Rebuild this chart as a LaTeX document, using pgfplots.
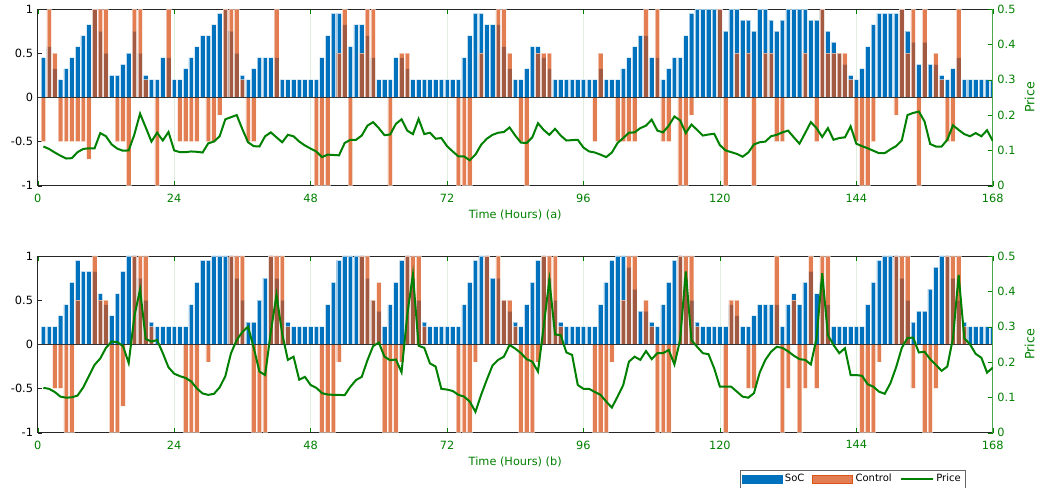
\documentclass[border=0pt]{standalone}
\usepackage{pgfplots}
\pgfplotsset{compat=1.18}
\usepackage{pgfplotstable}
\usepackage{fontspec}
\setmainfont{DejaVu Sans}
\definecolor{socblue}{RGB}{0,114,189}
\definecolor{ctrlorange}{RGB}{217,83,25}
\definecolor{pricegreen}{RGB}{0,128,0}
\definecolor{axgreen}{RGB}{0,128,0}

\pgfplotstableread{
h soc ctrl price
1 0.45 -0.5 0.111
2 0.575 1 0.104
3 0.325 0.5 0.094
4 0.2 -0.5 0.085
5 0.325 -0.5 0.077
6 0.45 -0.5 0.078
7 0.575 -0.5 0.095
8 0.7 -0.5 0.104
9 0.825 -0.7 0.106
10 1.0 1 0.106
11 0.75 1 0.149
12 0.5 1 0.140
13 0.25 0 0.117
14 0.25 -0.5 0.105
15 0.375 -0.5 0.099
16 0.5 -1 0.100
17 0.75 1 0.145
18 0.5 1 0.204
19 0.25 0.2 0.165
20 0.2 0 0.125
21 0.2 -1 0.150
22 0.45 0 0.128
23 0.45 1 0.152
24 0.2 0 0.100
25 0.2 -0.5 0.095
26 0.325 -0.5 0.095
27 0.45 -0.5 0.097
28 0.575 -0.5 0.096
29 0.7 0 0.094
30 0.7 -0.5 0.120
31 0.825 -0.5 0.125
32 0.95 -0.2 0.140
33 1.0 1 0.188
34 0.75 1 0.194
35 0.5 1 0.200
36 0.25 0.2 0.160
37 0.2 -0.5 0.123
38 0.325 -0.5 0.112
39 0.45 0 0.111
40 0.45 0 0.140
41 0.45 0 0.151
42 0.45 1 0.137
43 0.2 0 0.123
44 0.2 0 0.144
45 0.2 0 0.140
46 0.2 0 0.125
47 0.2 0 0.114
48 0.2 0 0.105
49 0.2 -1 0.097
50 0.45 -1 0.081
51 0.7 -1 0.088
52 0.95 0 0.087
53 0.95 0.5 0.086
54 0.825 1 0.121
55 0.575 -1 0.130
56 0.825 0 0.130
57 0.825 0.5 0.142
58 0.7 1 0.170
59 0.45 1 0.180
60 0.2 0 0.163
61 0.2 0 0.143
62 0.2 -1 0.145
63 0.45 0 0.175
64 0.45 0.5 0.188
65 0.325 0.5 0.156
66 0.2 0 0.146
67 0.2 0 0.189
68 0.2 0 0.146
69 0.2 0 0.150
70 0.2 0 0.133
71 0.2 0 0.135
72 0.2 0 0.112
73 0.2 0 0.097
74 0.2 -1 0.083
75 0.45 -1 0.083
76 0.7 -1 0.072
77 0.95 0 0.088
78 0.95 0.5 0.116
79 0.825 0 0.133
80 0.825 0 0.144
81 0.825 1 0.150
82 0.575 1 0.152
83 0.325 0.5 0.165
84 0.2 0 0.142
85 0.2 -0.5 0.122
86 0.325 -1 0.121
87 0.575 0 0.137
88 0.575 0.5 0.177
89 0.45 0.5 0.158
90 0.325 0.5 0.144
91 0.2 0 0.161
92 0.2 0 0.142
93 0.2 0 0.128
94 0.2 0 0.129
95 0.2 0 0.130
96 0.2 0 0.108
97 0.2 0 0.097
98 0.2 -0.5 0.094
99 0.325 0.5 0.088
100 0.2 0 0.081
101 0.2 0 0.094
102 0.2 -0.5 0.121
103 0.325 -0.5 0.135
104 0.45 -0.5 0.150
105 0.575 -0.5 0.151
106 0.7 0 0.163
107 0.7 1 0.170
108 0.45 0 0.187
109 0.45 1 0.156
110 0.2 -0.5 0.151
111 0.325 -0.5 0.170
112 0.45 0 0.196
113 0.45 -1 0.185
114 0.7 -1 0.149
115 0.95 -0.2 0.173
116 1.0 0 0.158
117 1.0 0 0.142
118 1.0 0 0.145
119 1.0 0 0.147
120 1.0 1 0.115
121 0.75 -1 0.100
122 1.0 0 0.095
123 1.0 0.5 0.090
124 0.875 0 0.082
125 0.875 0.5 0.094
126 0.75 -1 0.117
127 1.0 0 0.123
128 1.0 0.5 0.125
129 0.875 0.5 0.140
130 0.75 -0.5 0.144
131 0.875 -0.5 0.151
132 1.0 0 0.156
133 1.0 0 0.137
134 1.0 0 0.119
135 1.0 0.5 0.149
136 0.875 0 0.180
137 0.875 -0.5 0.163
138 1.0 1 0.138
139 0.75 0.5 0.163
140 0.625 0.5 0.130
141 0.5 0.5 0.135
142 0.375 0.5 0.137
143 0.25 0.2 0.168
144 0.2 -0.5 0.119
145 0.325 -1 0.112
146 0.575 -1 0.106
147 0.825 -0.5 0.099
148 0.95 0 0.092
149 0.95 0 0.092
150 0.95 0 0.103
151 0.95 -0.2 0.112
152 1.0 1 0.128
153 0.75 0.5 0.200
154 0.625 1 0.206
155 0.375 -1 0.210
156 0.625 1 0.182
157 0.375 0 0.118
158 0.375 0.5 0.111
159 0.25 0.2 0.111
160 0.2 -0.5 0.130
161 0.325 -0.5 0.171
162 0.45 1 0.158
163 0.2 0 0.146
164 0.2 0 0.140
165 0.2 0 0.149
166 0.2 0 0.140
167 0.2 0 0.157
168 0.2 0 0.127
}\topdata

\pgfplotstableread{
h soc ctrl price
1 0.2 0 0.127
2 0.2 0 0.124
3 0.2 -0.5 0.115
4 0.325 -0.5 0.102
5 0.45 -1 0.099
6 0.7 -1 0.100
7 0.95 0.5 0.105
8 0.825 0 0.128
9 0.825 0 0.160
10 0.825 1 0.192
11 0.575 0.5 0.210
12 0.45 0.5 0.240
13 0.325 -1 0.258
14 0.575 -1 0.256
15 0.825 -0.7 0.245
16 1.0 0 0.197
17 1.0 1 0.330
18 0.75 1 0.405
19 0.5 1 0.265
20 0.25 0.2 0.258
21 0.2 0 0.262
22 0.2 0 0.225
23 0.2 0 0.185
24 0.2 0 0.167
25 0.2 0 0.160
26 0.2 -1 0.155
27 0.45 -1 0.145
28 0.7 -1 0.125
29 0.95 0 0.111
30 0.95 -0.2 0.107
31 1.0 0 0.110
32 1.0 0 0.128
33 1.0 0 0.160
34 1.0 1 0.225
35 0.75 1 0.262
36 0.5 1 0.285
37 0.25 0 0.300
38 0.25 -1 0.240
39 0.5 -1 0.173
40 0.75 -1 0.163
41 1.0 1 0.285
42 0.75 1 0.390
43 0.5 1 0.280
44 0.25 0.2 0.206
45 0.2 0 0.215
46 0.2 0 0.150
47 0.2 0 0.158
48 0.2 0 0.135
49 0.2 0 0.127
50 0.2 -1 0.112
51 0.45 -1 0.108
52 0.7 -1 0.107
53 0.95 -0.2 0.107
54 1.0 0 0.106
55 1.0 0 0.130
56 1.0 0 0.149
57 1.0 1 0.158
58 0.75 1 0.205
59 0.5 0.5 0.245
60 0.375 0.7 0.255
61 0.2 -1 0.215
62 0.45 -1 0.205
63 0.7 -1 0.207
64 0.95 -0.2 0.171
65 1.0 1 0.333
66 0.75 1 0.448
67 0.5 1 0.246
68 0.25 0.2 0.240
69 0.2 0 0.196
70 0.2 0 0.187
71 0.2 0 0.124
72 0.2 0 0.122
73 0.2 0 0.118
74 0.2 -1 0.107
75 0.45 -1 0.102
76 0.7 -1 0.088
77 0.95 -0.2 0.059
78 1.0 0 0.107
79 1.0 1 0.150
80 0.75 0 0.190
81 0.75 1 0.206
82 0.5 0.5 0.215
83 0.375 0.5 0.248
84 0.25 0.2 0.238
85 0.2 -1 0.225
86 0.45 -1 0.208
87 0.7 -1 0.201
88 0.95 -0.2 0.173
89 1.0 1 0.300
90 0.75 1 0.432
91 0.5 1 0.278
92 0.25 0.2 0.276
93 0.2 0 0.227
94 0.2 0 0.220
95 0.2 0 0.135
96 0.2 0 0.124
97 0.2 0 0.124
98 0.2 -1 0.115
99 0.45 -1 0.107
100 0.7 -1 0.088
101 0.95 -0.2 0.071
102 1.0 0 0.102
103 1.0 0.5 0.135
104 0.875 1 0.201
105 0.625 1 0.215
106 0.375 0 0.206
107 0.375 0.5 0.231
108 0.25 0.2 0.208
109 0.2 -1 0.225
110 0.45 -1 0.225
111 0.7 -1 0.234
112 0.95 -0.2 0.193
113 1.0 1 0.262
114 0.75 1 0.456
115 0.5 1 0.262
116 0.25 0.2 0.243
117 0.2 0 0.225
118 0.2 0 0.222
119 0.2 0 0.182
120 0.2 0 0.130
121 0.2 -1 0.130
122 0.45 0.5 0.130
123 0.325 0.5 0.116
124 0.2 0 0.102
125 0.2 -0.5 0.099
126 0.325 -0.5 0.112
127 0.45 0 0.170
128 0.45 0 0.206
129 0.45 0 0.229
130 0.45 1 0.243
131 0.2 -1 0.240
132 0.45 -0.5 0.230
133 0.575 0.5 0.218
134 0.45 -1 0.208
135 0.7 -0.5 0.206
136 0.825 1 0.193
137 0.575 -0.5 0.267
138 0.7 1 0.451
139 0.45 1 0.276
140 0.2 0 0.248
141 0.2 0 0.225
142 0.2 0 0.239
143 0.2 0 0.163
144 0.2 0 0.163
145 0.2 -1 0.161
146 0.45 -1 0.137
147 0.7 -1 0.130
148 0.95 -0.2 0.116
149 1.0 0 0.110
150 1.0 0 0.140
151 1.0 1 0.185
152 0.75 1 0.240
153 0.5 1 0.268
154 0.25 -0.5 0.269
155 0.375 0 0.227
156 0.375 -1 0.229
157 0.625 -1 0.208
158 0.875 -0.5 0.192
159 1.0 0 0.175
160 1.0 1 0.187
161 0.75 1 0.267
162 0.5 1 0.446
163 0.25 0.2 0.267
164 0.2 0 0.250
165 0.2 0 0.223
166 0.2 0 0.212
167 0.2 0 0.170
168 0.2 0 0.184
}\botdata

\pgfplotsset{
  common/.style={
    scale only axis, width=716.25pt, height=132.5pt,
    xmin=0, xmax=168,
    tick align=inside, major tick length=3.5pt,
    ticklabel style={font=\fontsize{8.5}{10}\selectfont},
    label style={font=\fontsize{8.5}{10}\selectfont},
    /pgf/number format/assume math mode=true,
  },
  leftax/.style={
    common,
    ymin=-1, ymax=1,
    ytick={-1,-0.5,0,0.5,1},
    ytick pos=left,
    xtick={0,24,...,168},
    xtick pos=both,
    xticklabel style={text=axgreen, yshift=-2.5pt},
    x tick style={draw=axgreen},
    y tick style={draw=black!85},
    x axis line style={draw=axgreen!55},
    y axis line style={draw=black!85},
    xmajorgrids, grid style={draw=axgreen!12, line width=0.5pt},
    xlabel style={text=axgreen, yshift=1.5pt},
  },
  rightax/.style={
    common,
    ymin=0, ymax=0.5,
    ytick={0,0.1,0.2,0.3,0.4,0.5},
    axis y line*=right, axis x line=none,
    y axis line style={draw=axgreen!70},
    y tick style={draw=axgreen},
    yticklabel style={text=axgreen},
    ylabel={Price}, ylabel style={text=axgreen, font=\fontsize{9.5}{11}\selectfont},
  },
  socbar/.style={ybar, bar width=0.8, bar shift=0pt, fill=socblue, draw=white, draw opacity=0.6, line width=0.35pt},
  ctrlbar/.style={ybar, bar width=0.8, bar shift=0pt, fill=ctrlorange, fill opacity=0.75, draw=white, draw opacity=0.5, line width=0.35pt},
  priceline/.style={pricegreen, line width=1.5pt, mark=none},
}

\begin{document}
\begin{tikzpicture}
\useasboundingbox (0,0) rectangle (777.75pt,366pt);

% ---- top panel ----
\begin{axis}[leftax, at={(28.3pt,226.7pt)}, anchor=south west, xlabel={Time (Hours) (a)}]
\addplot[socbar] table[x=h, y=soc] {\topdata};
\addplot[ctrlbar] table[x=h, y=ctrl] {\topdata};
\addplot[black!80, line width=0.6pt, mark=none] coordinates {(0,0) (168,0)};
\end{axis}
\begin{axis}[rightax, at={(28.3pt,226.7pt)}, anchor=south west]
\addplot[priceline] table[x=h, y=price] {\topdata};
\end{axis}

% ---- bottom panel ----
\begin{axis}[leftax, at={(28.3pt,41.5pt)}, anchor=south west, xlabel={Time (Hours) (b)}]
\addplot[socbar] table[x=h, y=soc] {\botdata};
\addplot[ctrlbar] table[x=h, y=ctrl] {\botdata};
\addplot[black!80, line width=0.6pt, mark=none] coordinates {(0,0) (168,0)};
\end{axis}
\begin{axis}[rightax, at={(28.3pt,41.5pt)}, anchor=south west,
  legend columns=3,
  legend style={at={(0.971,-0.212)}, anchor=north east, draw=black!60, line width=0.4pt,
    font=\fontsize{7.5}{9}\selectfont, inner sep=1pt,
    /tikz/every even column/.append style={column sep=4pt}},
  legend entries={SoC,Control,Price}]
\addlegendimage{legend image code/.code={\fill[socblue] (0pt,-3.2pt) rectangle (30pt,3.2pt);}}
\addlegendimage{legend image code/.code={\fill[ctrlorange, fill opacity=0.75] (0pt,-3.2pt) rectangle (30pt,3.2pt);}}
\addlegendimage{legend image code/.code={\draw[pricegreen, line width=1.5pt] (0pt,0pt) -- (24pt,0pt);}}
\addplot[priceline] table[x=h, y=price] {\botdata};
\end{axis}
\end{tikzpicture}
\end{document}
